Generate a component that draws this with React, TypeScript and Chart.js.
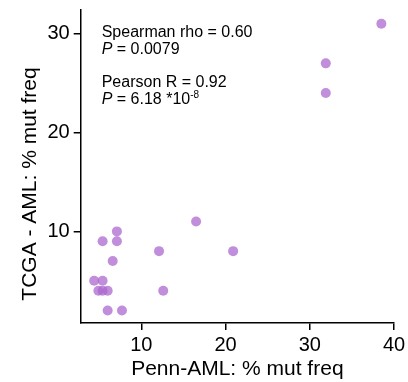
import React, { useEffect, useRef } from "react";
import { Chart, registerables } from "chart.js";

Chart.register(...registerables);

const pennFreq = [38.5, 31.9, 31.9, 16.5, 7.1, 5.4, 7.1, 12.1, 20.9, 6.6, 4.4, 5.4, 4.9, 5.4, 6.0, 12.6, 6.0, 7.7];
const tcgaFreq = [31, 27, 24, 11, 10, 9, 9, 8, 8, 7, 5, 5, 4, 4, 4, 4, 2, 2];
const xTicks = [10, 20, 30, 40];
const yTicks = [10, 20, 30];
const xTitle = "Penn-AML: % mut freq";
const yTitle = "TCGA - AML: % mut freq";
const spearmanLines = ["Spearman rho = 0.60", "0.0079"];
const pearsonLines = ["Pearson R = 0.92", "6.18 *10", "-8"];

const FONT = "'Liberation Sans', Arial, sans-serif";

const overlayPlugin = {
  id: "overlay",
  afterDraw(chart: any) {
    const ctx = chart.ctx;
    const ca = chart.chartArea;
    ctx.save();
    ctx.fillStyle = "#000";
    // axis titles
    ctx.font = `21px ${FONT}`;
    ctx.textAlign = "center";
    ctx.textBaseline = "alphabetic";
    ctx.fillText(xTitle, (ca.left + ca.right) / 2, 375);
    ctx.save();
    ctx.translate(36, 184);
    ctx.rotate(-Math.PI / 2);
    ctx.fillText(yTitle, 0, 0);
    ctx.restore();

    // annotation
    const x0 = ca.left + 21;
    ctx.textAlign = "left";
    const drawP = (rest: string, y: number) => {
      ctx.font = `italic 16px ${FONT}`;
      ctx.fillText("P", x0, y);
      const w = ctx.measureText("P").width;
      ctx.font = `16px ${FONT}`;
      ctx.fillText(" = " + rest, x0 + w, y);
      return x0 + w + ctx.measureText(" = " + rest).width;
    };
    ctx.font = `16px ${FONT}`;
    ctx.fillText(spearmanLines[0], x0, 37);
    drawP(spearmanLines[1], 53.5);
    ctx.font = `16px ${FONT}`;
    ctx.fillText(pearsonLines[0], x0, 87);
    const end = drawP(pearsonLines[1], 103.5);
    ctx.font = `10px ${FONT}`;
    ctx.fillText(pearsonLines[2], end, 97.5);
    ctx.restore();
  },
};

export default function App() {
  const ref = useRef<HTMLCanvasElement>(null);
  useEffect(() => {
    if (!ref.current) return;
    const points = pennFreq.map((x, i) => ({ x, y: tcgaFreq[i] }));
    const chart = new Chart(ref.current, {
      type: "scatter",
      data: {
        datasets: [
          {
            data: points,
            backgroundColor: "rgba(171,104,207,0.75)",
            borderWidth: 0,
            pointRadius: 5,
            pointHoverRadius: 5,
          },
        ],
      },
      options: {
        animation: false,
        responsive: false,
        maintainAspectRatio: false,
        events: [],
        layout: { padding: { top: 10, right: 14, left: 0, bottom: 0 } },
        plugins: { legend: { display: false }, tooltip: { enabled: false } },
        scales: {
          x: {
            type: "linear",
            min: 2.8,
            max: 40,
            afterBuildTicks: (s: any) => {
              s.ticks = xTicks.map((v) => ({ value: v }));
            },
            afterFit: (s: any) => {
              s.height = 59;
              s.paddingLeft = 0;
              s.paddingRight = 0;
            },
            grid: { display: true, drawOnChartArea: false, drawTicks: true, tickLength: 7, color: "#000", lineWidth: 1.5 },
            border: { display: true, color: "#000", width: 1.5 },
            ticks: { color: "#000", font: { size: 20, family: FONT }, padding: 3, maxRotation: 0 },
          },
          y: {
            type: "linear",
            min: 0.73,
            max: 32.4,
            afterBuildTicks: (s: any) => {
              s.ticks = yTicks.map((v) => ({ value: v }));
            },
            afterFit: (s: any) => {
              s.width = 80.7;
              s.paddingTop = 0;
              s.paddingBottom = 0;
            },
            grid: { display: true, drawOnChartArea: false, drawTicks: true, tickLength: 7, color: "#000", lineWidth: 1.5 },
            border: { display: true, color: "#000", width: 1.5 },
            ticks: { color: "#000", font: { size: 20, family: FONT }, padding: 4 },
          },
        },
      },
      plugins: [overlayPlugin],
    });
    return () => chart.destroy();
  }, []);
  return (
    <div style={{ position: "fixed", left: 0, top: 0, width: 408, height: 382, background: "#fff" }}>
      <canvas ref={ref} width={408} height={382} style={{ width: 408, height: 382, display: "block" }} />
    </div>
  );
}
